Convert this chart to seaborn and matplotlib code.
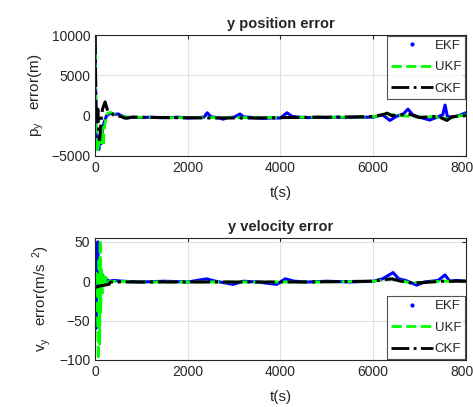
import numpy as np
import pandas as pd
import matplotlib
matplotlib.use("Agg")
import matplotlib.pyplot as plt
from matplotlib.lines import Line2D
import seaborn as sns

# ---------------------------------------------------------------------
# Data
# ---------------------------------------------------------------------
# y position error (m)
ekf_pos_t = [0, 20, 40, 60, 80, 100, 130, 160, 200, 250, 300, 350, 400, 500, 600, 700,
             800, 1000, 1200, 1400, 1600, 1800, 2000, 2200, 2350, 2420, 2500, 2700, 2760,
             2850, 3000, 3126, 3200, 3400, 3600, 3800, 4000, 4140, 4250, 4400, 4600, 4800,
             5000, 5200, 5400, 5600, 5800, 6000, 6200, 6360, 6500, 6650, 6750, 6850, 7000,
             7220, 7400, 7500, 7550, 7600, 7700, 7850, 8000]
ekf_pos = [10000, -2000, -4000, -3000, -4200, -2500, -3500, -1500, -800, 0, 200, 300, 150,
           200, -100, -300, -200, -250, -200, -250, -250, -200, -300, -250, -200, 350, -150,
           -300, -450, -250, -200, 200, -150, -250, -350, -300, -300, 350, -100, -200, -250,
           -200, -250, -200, -250, -200, -200, -200, 100, -600, -100, 200, 800, 100, -200,
           -550, -150, 100, 1300, -100, -200, 0, 350]

ukf_pos_t = [0, 20, 45, 70, 100, 130, 150, 175, 200, 240, 280, 320, 400, 500, 600, 800,
             1500, 2500, 3500, 4500, 5500, 6000, 6300, 6600, 7000, 7300, 7600, 7800, 8000]
ukf_pos = [10000, -2500, -4500, -3800, -2500, -3400, -1500, -3800, -1500, 0, 300, 400, 200,
           100, -150, -200, -250, -250, -250, -200, -200, -150, 200, 0, -200, -100, -400,
           -100, 100]

ckf_pos_t = [0, 20, 40, 60, 80, 100, 130, 160, 216, 250, 280, 350, 430, 550, 650, 800,
             1500, 2500, 3500, 4000, 5000, 5800, 6000, 6200, 6300, 6400, 6600, 6800, 7000,
             7200, 7400, 7590, 7700, 8000]
ckf_pos = [10000, 500, -1000, 800, -2500, -3000, -500, 800, 1700, 1000, 500, 300, -50, -100,
           -330, -200, -250, -300, -300, -250, -200, -150, -100, 100, 300, 0, 100, 150, -250,
           -150, -100, -600, -150, 0]

# y velocity error (m/s^2)
ekf_vel_t = [0, 20, 40, 60, 80, 100, 130, 160, 200, 250, 300, 400, 600, 1000, 1500, 2000,
             2400, 2600, 2980, 3200, 3500, 3920, 4100, 4300, 4600, 5000, 5500, 6000, 6200,
             6430, 6550, 6700, 6940, 7100, 7400, 7550, 7650, 7800, 8000]
ekf_vel = [-10, -60, 20, 50, -20, 15, -10, 8, -3, 2, 0, 1, 0, -1, 0, -1, 3, 0, -4, 0, -1, -4,
           3, 0, -1, 0, -1, 0, 3, 11, 3, 1, -5, -1, 1, 8, 0, 1, 0]

ukf_vel_t = [0, 30, 50, 70, 85, 100, 110, 120, 140, 160, 180, 200, 230, 260, 300, 1000,
             3000, 5000, 6000, 6400, 6800, 7500, 8000]
ukf_vel = [-10, 10, -40, -99, 30, -80, 52, -40, 18, -15, 10, -8, 5, -3, 0, -1, -1, -1, 0, 3,
           -2, 0, 0]

ckf_vel_t = [0, 100, 200, 300, 330, 600, 1500, 3000, 4500, 6000, 6200, 6400, 6600, 6800,
             7000, 7500, 8000]
ckf_vel = [-8, -6, -5, -4, -1, -1, -1, -1, -1, 0, 2, 3, 0, -2, -2, 0, 0]

FILTERS = ["EKF", "UKF", "CKF"]


# ---------------------------------------------------------------------
# Plot helpers
# ---------------------------------------------------------------------
def draw_panel(ax, series, title, ylabel, ylim, yticks, legend_loc):
    styles = {
        "EKF": dict(color="#0000ff", linestyle="-", linewidth=2.2),
        "UKF": dict(color="#00ff00", linestyle="--", linewidth=2.0),
        "CKF": dict(color="black", linestyle="-.", linewidth=2.2),
    }
    for name in FILTERS:
        t, v = series[name]
        df = pd.DataFrame({"t": t, "v": v})
        sns.lineplot(data=df, x="t", y="v", ax=ax, sort=False, estimator=None, **styles[name])

    ax.set_xlim(0, 8000)
    ax.set_ylim(*ylim)
    ax.set_xticks([0, 2000, 4000, 6000, 8000])
    ax.set_yticks(yticks)
    ax.grid(True, color="#e0e0e0", linewidth=0.8)
    ax.set_axisbelow(True)
    ax.tick_params(direction="in", top=True, right=True, length=3, labelsize=10,
                   colors="#262626")
    for sp in ax.spines.values():
        sp.set_color("#262626")
        sp.set_linewidth(0.8)
    ax.set_title(title, fontsize=10.5, fontweight="bold", pad=5)
    ax.set_xlabel("t(s)", fontsize=11, labelpad=8)
    ax.set_ylabel(ylabel, fontsize=11, labelpad=4)

    handles = [
        Line2D([], [], color="#0000ff", marker=".", linestyle="none", markersize=4),
        Line2D([], [], color="#00ff00", linestyle="--", linewidth=2),
        Line2D([], [], color="black", linestyle="-.", linewidth=2),
    ]
    leg = ax.legend(handles, FILTERS, loc=legend_loc, fontsize=9.5, frameon=True,
                    fancybox=False, edgecolor="#262626", handlelength=3.2,
                    handletextpad=0.1, borderaxespad=0.05, labelspacing=0.7,
                    borderpad=0.3)
    leg.get_frame().set_linewidth(0.8)


def main():
    sns.set_style("white")
    plt.rcParams["font.family"] = ["Liberation Sans", "DejaVu Sans"]
    plt.rcParams["mathtext.fontset"] = "custom"
    plt.rcParams["mathtext.rm"] = "Liberation Sans"
    plt.rcParams["mathtext.it"] = "Liberation Sans"

    fig = plt.figure(figsize=(4.73, 4.07), dpi=100)
    ax1 = fig.add_axes([0.201, 0.617, 0.784, 0.297])
    ax2 = fig.add_axes([0.201, 0.1155, 0.784, 0.300])

    draw_panel(ax1,
               {"EKF": (ekf_pos_t, ekf_pos), "UKF": (ukf_pos_t, ukf_pos),
                "CKF": (ckf_pos_t, ckf_pos)},
               "y position error", r"p$_{\mathrm{y}}$   error(m)",
               (-5000, 10000), [-5000, 0, 5000, 10000], "upper right")
    draw_panel(ax2,
               {"EKF": (ekf_vel_t, ekf_vel), "UKF": (ukf_vel_t, ukf_vel),
                "CKF": (ckf_vel_t, ckf_vel)},
               "y velocity error", r"v$_{\mathrm{y}}$   error(m/s$^{\mathrm{ \  \ 2}}$)",
               (-100, 55), [-100, -50, 0, 50], "lower right")

    fig.savefig("out.png", dpi=100)
    plt.close(fig)


if __name__ == "__main__":
    main()
